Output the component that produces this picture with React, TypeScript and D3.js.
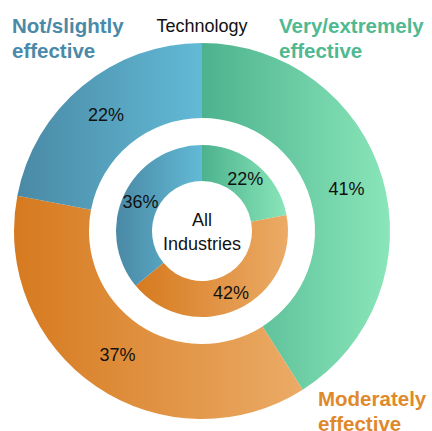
import React from 'react'
import * as d3 from 'd3'

const categories = ['Very/extremely effective', 'Moderately effective', 'Not/slightly effective'];
const technology = [41, 37, 22];
const allIndustries = [22, 42, 36];

const width = 432;
const height = 431;
const cx = 202;
const cy = 231;

const gradients = [
  { id: 'g-green', from: '#4cb28e', to: '#8ae6b9' },
  { id: 'g-orange', from: '#d67a1f', to: '#ebab66' },
  { id: 'g-blue', from: '#4a89a5', to: '#62bad6' },
];

const labelColors = ['#4fb991', '#e0892c', '#4a8aa8'];

const pie = d3.pie<number>().sort(null).value(d => d);

const outerArc = d3.arc<d3.PieArcDatum<number>>().innerRadius(113).outerRadius(188);
const innerArc = d3.arc<d3.PieArcDatum<number>>().innerRadius(50).outerRadius(86);

const font = 'Arial, "Liberation Sans", sans-serif';

const Ring = ({ values, arc }) => (
  <g>
    {pie(values).map((d, i) => (
      <path key={i} d={arc(d) || ''} fill={`url(#${gradients[i].id})`} />
    ))}
    {pie(values).map((d, i) => {
      const [x, y] = arc.centroid(d);
      return (
        <text key={'t' + i} x={x} y={y} textAnchor="middle" dominantBaseline="central"
          fontSize={18} fontFamily={font} fill="#111">
          {d.data}%
        </text>
      );
    })}
  </g>
);

const Label = ({ x, y, lines, color, anchor }) => (
  <text x={x} y={y} fontSize={20.5} fontWeight="bold" fontFamily={font} fill={color} textAnchor={anchor}>
    {lines.map((l, i) => (
      <tspan key={i} x={x} dy={i === 0 ? 0 : 24.5}>{l}</tspan>
    ))}
  </text>
);

export default function App() {
  return (
    <svg width={width} height={height} style={{ position: 'absolute', left: 0, top: 0, display: 'block' }}>
      <defs>
        {gradients.map(g => (
          <linearGradient key={g.id} id={g.id} x1="0" y1="0" x2="1" y2="0">
            <stop offset="0%" stopColor={g.from} />
            <stop offset="100%" stopColor={g.to} />
          </linearGradient>
        ))}
      </defs>
      <rect width={width} height={height} fill="#fff" />
      <g transform={`translate(${cx},${cy})`}>
        <Ring values={technology} arc={outerArc} />
        <Ring values={allIndustries} arc={innerArc} />
        <text textAnchor="middle" fontSize={18} fontFamily={font} fill="#111">
          <tspan x={0} y={-5}>All</tspan>
          <tspan x={0} y={19}>Industries</tspan>
        </text>
      </g>
      <text x={cx} y={32} textAnchor="middle" fontSize={18} fontFamily={font} fill="#111">Technology</text>
      <Label x={12} y={33} lines={['Not/slightly', 'effective']} color={labelColors[2]} anchor="start" />
      <Label x={279} y={33} lines={['Very/extremely', 'effective']} color={labelColors[0]} anchor="start" />
      <Label x={318} y={406} lines={['Moderately', 'effective']} color={labelColors[1]} anchor="start" />
    </svg>
  );
}
